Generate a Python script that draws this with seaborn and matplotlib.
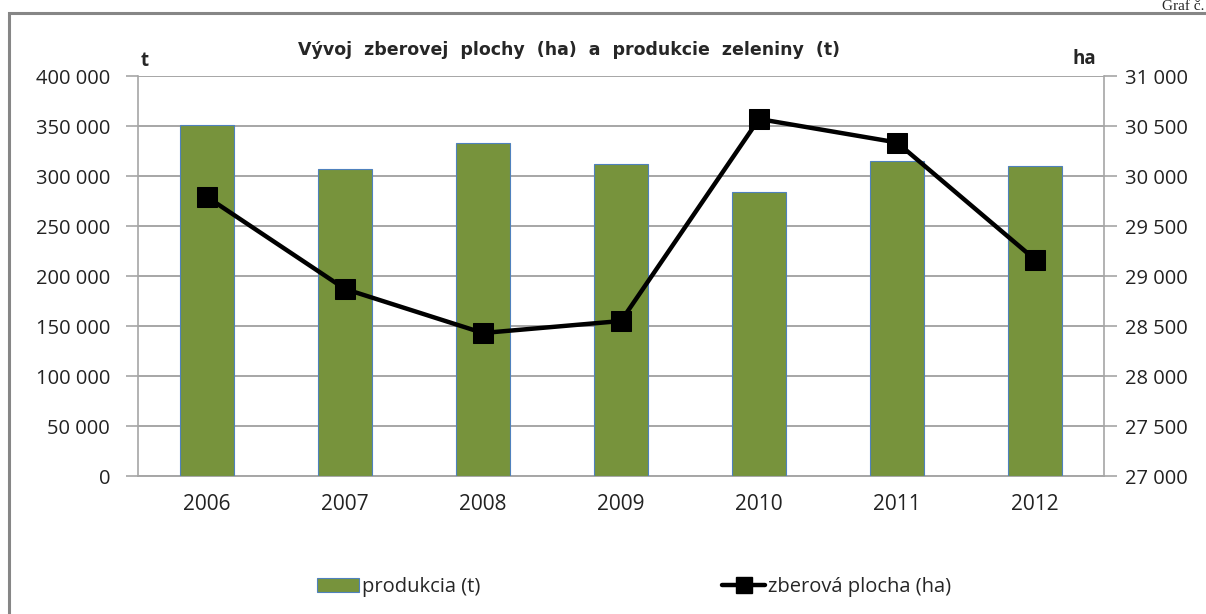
import numpy as np
import pandas as pd
import seaborn as sns
import matplotlib
matplotlib.use("Agg")
import matplotlib.pyplot as plt
from matplotlib.ticker import FuncFormatter, MultipleLocator
from matplotlib.patches import Rectangle
from matplotlib.lines import Line2D
from matplotlib.patches import Patch

years = ["2006", "2007", "2008", "2009", "2010", "2011", "2012"]
produkcia = [351000, 307000, 333000, 312000, 284000, 315000, 310000]
plocha = [29790, 28870, 28430, 28550, 30570, 30335, 29165]

title = "Vývoj  zberovej  plochy  (ha)  a  produkcie  zeleniny  (t)"
label_bar = "produkcia (t)"
label_line = "zberová plocha (ha)"

sns.set_theme(style="white")
plt.rcParams['font.family'] = ['Open Sans', 'DejaVu Sans']

fig = plt.figure(figsize=(12.06, 6.14), dpi=100)
ax = fig.add_axes([138/1206, 1-476/614, (1104-138)/1206, 400/614])

df = pd.DataFrame({"rok": years, "produkcia": produkcia})
sns.barplot(data=df, x="rok", y="produkcia", ax=ax, color="#77933C",
            width=0.39, edgecolor="#4F81BD", linewidth=0.8, saturation=1, zorder=3)
ax.set_ylim(0, 400000)
ax.set_xlim(-0.5, 6.5)
ax.yaxis.set_major_locator(MultipleLocator(50000))
fmt = FuncFormatter(lambda v, p: f"{int(round(v)):,}".replace(",", " "))
ax.yaxis.set_major_formatter(fmt)
ax.grid(axis="y", color="#a6a6a6", linewidth=1.4, zorder=0)
ax.set_axisbelow(True)
ax.set_xlabel("")
ax.set_ylabel("")
for s in ["top", "right"]:
    ax.spines[s].set_visible(False)
ax.spines["left"].set_color("#a6a6a6")
ax.spines["bottom"].set_color("#a6a6a6")
ax.spines["left"].set_linewidth(1.2)
ax.spines["bottom"].set_linewidth(1.4)
ax.tick_params(axis="y", left=True, length=9, width=1.2, color="#a6a6a6",
               labelsize=14.5, pad=11, labelcolor="#222222")
ax.tick_params(axis="x", bottom=False, labelsize=15, pad=7, labelcolor="#222222")

ax2 = ax.twinx()
sns.lineplot(x=np.arange(len(years)), y=plocha, ax=ax2, color="black",
             linewidth=3.2, marker="s", markersize=14, markeredgecolor="black",
             markerfacecolor="black", zorder=5)
ax2.set_ylim(27000, 31000)
ax2.set_xlim(-0.5, 6.5)
ax2.yaxis.set_major_locator(MultipleLocator(500))
ax2.yaxis.set_major_formatter(fmt)
for s in ["top", "left", "bottom"]:
    ax2.spines[s].set_visible(False)
ax2.spines["right"].set_color("#a6a6a6")
ax2.spines["right"].set_linewidth(1.2)
ax2.tick_params(axis="y", right=True, length=9, width=1.2, color="#a6a6a6",
                labelsize=14.5, pad=6, labelcolor="#222222")
ax2.set_ylabel("")

fig.text(569/1206, 1-50/614, title, ha="center", va="center", fontsize=12.5,
         fontweight="bold", family=["Liberation Sans Narrow", "DejaVu Sans"])
fig.text(145/1206, 1-61/614, "t", ha="center", va="center", fontsize=13.5, fontweight="bold")
fig.text(1084/1206, 1-59/614, "ha", ha="center", va="center", fontsize=13.5, fontweight="bold")
fig.text(1204/1206, 1.0, "Graf č.", ha="right", va="top", fontsize=11,
         family=["Liberation Serif", "DejaVu Serif"])

fig.patches.append(Rectangle((9/1206, -0.1), 1.2, 1-13/614 + 0.1, transform=fig.transFigure,
                             fill=False, edgecolor="#868686", linewidth=2.2))

handles = [Patch(facecolor="#77933C", edgecolor="#4F81BD", linewidth=0.8, label=label_bar),
           Line2D([0], [0], color="black", linewidth=3.2, marker="s", markersize=12,
                  label=label_line)]
fig.legend(handles=handles, loc="center", bbox_to_anchor=(634/1206, 1-587/614), ncol=2,
           frameon=False, fontsize=14.5, columnspacing=12, handlelength=2.1,
           handletextpad=0.15)

fig.savefig("out.png", dpi=100)
